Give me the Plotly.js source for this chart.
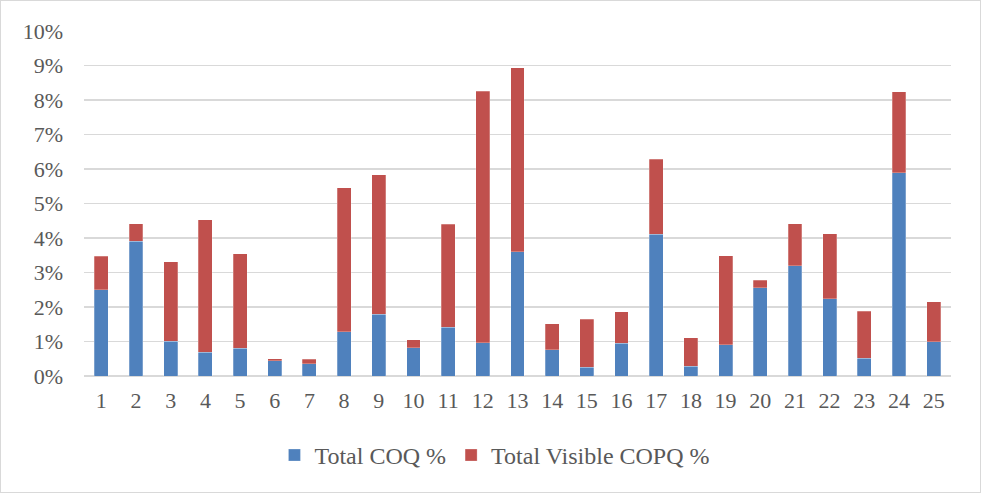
<!DOCTYPE html>
<html>
<head>
<meta charset="utf-8">
<script src="https://cdn.plot.ly/plotly-3.0.1.min.js"></script>
<style>
html,body{margin:0;padding:0;background:#fff;}
#wrap{position:relative;width:981px;height:493px;}
#chart{width:981px;height:493px;}
#frame{position:absolute;left:0;top:0;width:979px;height:491px;border:1px solid #d9d9d9;pointer-events:none;}
</style>
</head>
<body>
<div id="wrap"><div id="chart"></div><div id="frame"></div></div>
<script>
const categories = ["1","2","3","4","5","6","7","8","9","10","11","12","13","14","15","16","17","18","19","20","21","22","23","24","25"];
const totalCOQ = [2.50,3.90,1.01,0.69,0.80,0.44,0.36,1.29,1.79,0.82,1.41,0.96,3.60,0.76,0.25,0.95,4.11,0.28,0.91,2.56,3.20,2.24,0.52,5.89,0.99];
const totalVisibleCOPQ = [0.97,0.51,2.30,3.84,2.74,0.06,0.13,4.16,4.05,0.23,2.99,7.30,5.34,0.76,1.39,0.91,2.17,0.83,2.58,0.21,1.21,1.88,1.36,2.35,1.16];
const yTicks = [0,1,2,3,4,5,6,7,8,9,10];

const family = "'Liberation Serif', 'Times New Roman', serif";
const font = {family: family, size: 22, color: "#595959"};
const legendFont = {family: family, size: 24, color: "#595959"};
const traces = [
  {type: "bar", name: "Total COQ %", x: categories, y: totalCOQ,
   marker: {color: "#4f81bd", line: {color: "rgba(255,255,255,0.5)", width: 0.5}}, hoverinfo: "x+y"},
  {type: "bar", name: "Total Visible COPQ %", x: categories, y: totalVisibleCOPQ,
   marker: {color: "#c0504d", line: {color: "rgba(255,255,255,0.5)", width: 0.5}}, hoverinfo: "x+y"}
];
const layout = {
  width: 981, height: 493,
  barmode: "stack", bargap: 0.6,
  margin: {l: 84, r: 30, t: 31, b: 117},
  paper_bgcolor: "#fff", plot_bgcolor: "#fff",
  font: font,
  xaxis: {type: "category", tickfont: font, showgrid: false, zeroline: false,
          showline: false, ticks: "", ticklen: 0, ticklabelstandoff: 9},
  yaxis: {range: [0, 10], tickvals: yTicks, ticktext: yTicks.map(v => v + "%"),
          tickfont: font, showgrid: true, gridcolor: "#d9d9d9", gridwidth: 1.5,
          zeroline: true, zerolinecolor: "#d9d9d9", zerolinewidth: 1.5, showline: false, ticks: "", ticklabelstandoff: 20},
  showlegend: true,
  legend: {orientation: "h", x: 0.474, xanchor: "center", y: -0.165, yanchor: "top",
           font: legendFont, traceorder: "normal", itemwidth: 30},
};
Plotly.newPlot("chart", traces, layout, {displayModeBar: false, staticPlot: true});
</script>
</body>
</html>
